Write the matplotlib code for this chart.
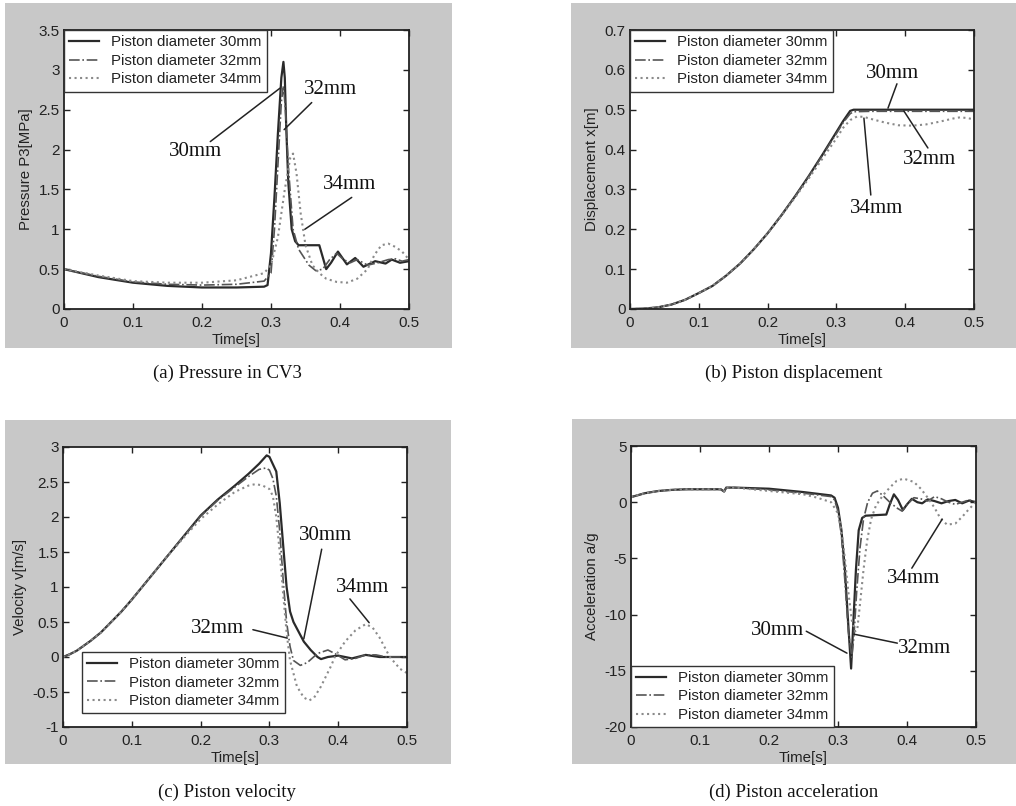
import numpy as np
import matplotlib.pyplot as plt
from matplotlib.patches import Rectangle
from matplotlib.ticker import FormatStrFormatter

# ---- (a) pressure in CV3 ----
tp_30 = [0, 0.05, 0.1, 0.15, 0.2, 0.25, 0.29, 0.295, 0.3, 0.305, 0.31, 0.315, 0.318, 0.32, 0.322, 0.325,
         0.33, 0.335, 0.34, 0.37, 0.375, 0.38, 0.387, 0.397, 0.41, 0.422, 0.434, 0.451, 0.466, 0.475, 0.487, 0.5]
p_30 = [0.5, 0.4, 0.33, 0.29, 0.27, 0.27, 0.28, 0.3, 0.7, 1.4, 2.2, 2.9, 3.1, 2.9, 2.3, 1.6,
        1.0, 0.85, 0.8, 0.8, 0.65, 0.5, 0.58, 0.72, 0.56, 0.64, 0.53, 0.6, 0.57, 0.62, 0.58, 0.6]
tp_32 = [0, 0.05, 0.1, 0.15, 0.2, 0.25, 0.29, 0.3, 0.305, 0.31, 0.315, 0.318, 0.321, 0.325, 0.332, 0.34,
         0.355, 0.365, 0.375, 0.385, 0.395, 0.405, 0.415, 0.425, 0.44, 0.455, 0.47, 0.48, 0.49, 0.5]
p_32 = [0.5, 0.41, 0.34, 0.31, 0.3, 0.31, 0.35, 0.45, 1.0, 1.8, 2.6, 2.8, 2.5, 1.8, 1.0, 0.75,
        0.55, 0.48, 0.5, 0.62, 0.7, 0.62, 0.58, 0.62, 0.55, 0.58, 0.62, 0.63, 0.6, 0.62]
tp_34 = [0, 0.05, 0.1, 0.15, 0.2, 0.25, 0.29, 0.3, 0.31, 0.32, 0.328, 0.332, 0.337, 0.343, 0.35, 0.36,
         0.37, 0.38, 0.395, 0.41, 0.425, 0.44, 0.45, 0.46, 0.47, 0.48, 0.49, 0.5]
p_34 = [0.5, 0.42, 0.35, 0.33, 0.33, 0.36, 0.45, 0.55, 0.9, 1.5, 1.9, 1.95, 1.7, 1.2, 0.8, 0.55,
        0.45, 0.38, 0.34, 0.33, 0.38, 0.5, 0.68, 0.8, 0.82, 0.78, 0.72, 0.62]

# ---- (b) piston displacement ----
tx_30 = [0, 0.02, 0.04, 0.06, 0.08, 0.1, 0.12, 0.14, 0.16, 0.18, 0.2, 0.22, 0.24, 0.26, 0.28, 0.3,
         0.31, 0.32, 0.325, 0.35, 0.4, 0.45, 0.5]
x_30 = [0, 0.001, 0.004, 0.011, 0.023, 0.04, 0.058, 0.084, 0.114, 0.15, 0.19, 0.235, 0.283, 0.334, 0.388, 0.444,
        0.472, 0.497, 0.5, 0.5, 0.5, 0.5, 0.5]
tx_32 = [0, 0.02, 0.04, 0.06, 0.08, 0.1, 0.12, 0.14, 0.16, 0.18, 0.2, 0.22, 0.24, 0.26, 0.28, 0.3,
         0.31, 0.32, 0.325, 0.35, 0.4, 0.45, 0.5]
x_32 = [0, 0.001, 0.004, 0.011, 0.023, 0.04, 0.058, 0.084, 0.114, 0.15, 0.19, 0.235, 0.283, 0.333, 0.386, 0.44,
        0.468, 0.49, 0.495, 0.496, 0.496, 0.496, 0.496]
tx_34 = [0, 0.02, 0.04, 0.06, 0.08, 0.1, 0.12, 0.14, 0.16, 0.18, 0.2, 0.22, 0.24, 0.26, 0.28, 0.3,
         0.31, 0.32, 0.33, 0.34, 0.35, 0.37, 0.39, 0.41, 0.43, 0.45, 0.47, 0.48, 0.49, 0.5]
x_34 = [0, 0.001, 0.004, 0.011, 0.023, 0.04, 0.058, 0.084, 0.114, 0.15, 0.19, 0.234, 0.28, 0.328, 0.378, 0.428,
        0.455, 0.474, 0.483, 0.482, 0.477, 0.468, 0.461, 0.46, 0.463, 0.47, 0.478, 0.481, 0.479, 0.476]

# ---- (c) piston velocity ----
tv_30 = [0, 0.01, 0.02, 0.03, 0.04, 0.055, 0.07, 0.085, 0.1, 0.125, 0.15, 0.175, 0.2, 0.225, 0.25, 0.27,
         0.285, 0.296, 0.3, 0.31, 0.315, 0.32, 0.325, 0.33, 0.335, 0.35, 0.36, 0.37, 0.375, 0.385, 0.4,
         0.42, 0.44, 0.46, 0.5]
v_30 = [0, 0.04, 0.09, 0.16, 0.23, 0.35, 0.5, 0.65, 0.82, 1.12, 1.42, 1.72, 2.02, 2.25, 2.45, 2.62,
        2.76, 2.88, 2.86, 2.65, 2.2, 1.6, 1.0, 0.65, 0.5, 0.22, 0.1, 0.0, -0.03, 0.0, 0.02,
        -0.02, 0.03, 0.0, 0.0]
tv_32 = [0, 0.01, 0.02, 0.03, 0.04, 0.055, 0.07, 0.085, 0.1, 0.125, 0.15, 0.175, 0.2, 0.225, 0.25, 0.27,
         0.285, 0.295, 0.3, 0.305, 0.31, 0.315, 0.32, 0.325, 0.33, 0.335, 0.345, 0.355, 0.37, 0.385, 0.395,
         0.41, 0.425, 0.44, 0.455, 0.47, 0.5]
v_32 = [0, 0.04, 0.09, 0.16, 0.23, 0.35, 0.5, 0.65, 0.82, 1.12, 1.42, 1.72, 2.01, 2.24, 2.43, 2.58,
        2.68, 2.7, 2.67, 2.55, 2.3, 1.8, 1.1, 0.5, 0.15, -0.05, -0.12, -0.08, 0.05, 0.1, 0.05,
        -0.04, -0.02, 0.03, 0.03, 0.0, 0.0]
tv_34 = [0, 0.01, 0.02, 0.03, 0.04, 0.055, 0.07, 0.085, 0.1, 0.125, 0.15, 0.175, 0.2, 0.225, 0.25, 0.27,
         0.28, 0.29, 0.3, 0.305, 0.31, 0.315, 0.32, 0.325, 0.33, 0.34, 0.35, 0.358, 0.365, 0.375, 0.39,
         0.395, 0.41, 0.425, 0.44, 0.45, 0.46, 0.475, 0.49, 0.5]
v_34 = [0, 0.04, 0.09, 0.16, 0.23, 0.35, 0.5, 0.65, 0.82, 1.12, 1.42, 1.7, 1.97, 2.18, 2.36, 2.45,
        2.47, 2.45, 2.4, 2.3, 2.0, 1.5, 0.9, 0.35, -0.05, -0.42, -0.58, -0.62, -0.58, -0.42, -0.12,
        0.0, 0.22, 0.38, 0.47, 0.42, 0.28, 0.0, -0.17, -0.23]

# ---- (d) piston acceleration ----
ta_30 = [0, 0.02, 0.04, 0.06, 0.08, 0.1, 0.13, 0.135, 0.138, 0.15, 0.175, 0.2, 0.225, 0.25, 0.27, 0.29,
         0.295, 0.3, 0.305, 0.31, 0.315, 0.319, 0.322, 0.326, 0.33, 0.335, 0.34, 0.37, 0.375, 0.381, 0.387,
         0.394, 0.4, 0.407, 0.415, 0.422, 0.43, 0.44, 0.45, 0.46, 0.47, 0.48, 0.49, 0.5]
a_30 = [0.45, 0.8, 1.0, 1.1, 1.15, 1.15, 1.15, 0.95, 1.3, 1.3, 1.25, 1.2, 1.05, 0.9, 0.75, 0.6,
        0.4, -0.5, -2.5, -6.0, -11.0, -14.8, -11.0, -6.0, -2.5, -1.4, -1.2, -1.1, -0.2, 0.7, 0.2,
        -0.7, -0.2, 0.3, 0.0, -0.1, 0.25, 0.1, -0.1, 0.1, 0.2, -0.1, 0.15, 0.0]
ta_32 = [0, 0.02, 0.04, 0.06, 0.08, 0.1, 0.13, 0.135, 0.138, 0.15, 0.175, 0.2, 0.225, 0.25, 0.27, 0.29,
         0.295, 0.3, 0.305, 0.31, 0.315, 0.32, 0.323, 0.327, 0.332, 0.337, 0.343, 0.35, 0.357, 0.365, 0.375,
         0.385, 0.393, 0.4, 0.41, 0.42, 0.43, 0.44, 0.45, 0.46, 0.47, 0.48, 0.49, 0.5]
a_32 = [0.45, 0.8, 1.0, 1.1, 1.15, 1.15, 1.15, 0.95, 1.3, 1.3, 1.2, 1.1, 0.95, 0.8, 0.65, 0.5,
        0.2, -0.8, -3.0, -7.0, -11.5, -13.8, -12.0, -8.0, -4.0, -1.5, 0.0, 0.8, 1.0, 0.6, 0.0,
        -0.5, -0.8, -0.2, 0.4, 0.3, 0.1, 0.5, 0.3, 0.0, -0.2, 0.0, 0.2, 0.0]
ta_34 = [0, 0.02, 0.04, 0.06, 0.08, 0.1, 0.13, 0.135, 0.138, 0.15, 0.175, 0.2, 0.225, 0.25, 0.27, 0.29,
         0.3, 0.305, 0.31, 0.315, 0.32, 0.325, 0.328, 0.332, 0.337, 0.342, 0.348, 0.355, 0.365, 0.375, 0.385,
         0.395, 0.41, 0.42, 0.43, 0.44, 0.448, 0.458, 0.47, 0.48, 0.49, 0.5]
a_34 = [0.45, 0.8, 1.0, 1.1, 1.15, 1.15, 1.15, 0.95, 1.3, 1.3, 1.15, 1.0, 0.85, 0.7, 0.4, 0.0,
        -1.0, -2.5, -5.0, -8.0, -10.5, -11.5, -11.3, -9.0, -6.0, -3.5, -1.5, -0.3, 0.6, 1.3, 1.9,
        2.1, 1.8, 1.2, 0.4, -0.5, -1.4, -2.0, -1.9, -1.3, -0.6, 0.0]

labels = ['Piston diameter 30mm', 'Piston diameter 32mm', 'Piston diameter 34mm']

W, H = 1016, 806
fig = plt.figure(figsize=(W / 100, H / 100), dpi=100)
fig.patch.set_facecolor('white')

sans = ['Liberation Sans', 'DejaVu Sans']
serif = ['Liberation Serif', 'DejaVu Serif']
txt_col = '#222222'


def px_axes(l, r, t, b):
    return [l / W, 1 - b / H, (r - l) / W, (b - t) / H]


def gray_box(l, r, t, b):
    fig.patches.append(Rectangle((l / W, 1 - b / H), (r - l) / W, (b - t) / H,
                                 transform=fig.transFigure, facecolor='#c8c8c8',
                                 edgecolor='none', zorder=-10))


def setup(ax, ylim, yticks, ylabel):
    ax.set_xlim(0, 0.5)
    ax.set_ylim(*ylim)
    ax.set_xticks(np.arange(0, 0.51, 0.1))
    ax.set_yticks(yticks)
    ax.xaxis.set_major_formatter(FormatStrFormatter('%g'))
    ax.yaxis.set_major_formatter(FormatStrFormatter('%g'))
    ax.tick_params(direction='in', top=True, right=True, length=4, width=1.0,
                   labelsize=11, colors='#222222')
    ax.tick_params(axis='x', pad=5)
    ax.tick_params(axis='y', pad=3)
    for lab in ax.get_xticklabels() + ax.get_yticklabels():
        lab.set_family(sans)
    for s in ax.spines.values():
        s.set_linewidth(1.3)
        s.set_color('#222222')
    ax.set_xlabel('Time[s]', family=sans, fontsize=10.8, color=txt_col, labelpad=2)
    ax.set_ylabel(ylabel, family=sans, fontsize=10.8, color=txt_col, labelpad=4)


def draw(ax, t30, y30, t32, y32, t34, y34):
    l1, = ax.plot(t30, y30, '-', color='#2a2a2a', lw=1.6)
    l2, = ax.plot(t32, y32, '-.', color='#555555', lw=1.2)
    l3, = ax.plot(t34, y34, ':', color='#8a8a8a', lw=1.5)
    return [l1, l2, l3]


def note(ax, text, txy, start, tip):
    ax.annotate('', xy=tip, xytext=start,
                arrowprops=dict(arrowstyle='-', color='#222222', lw=1.1, shrinkA=0, shrinkB=0))
    ax.text(txy[0], txy[1], text, family=serif, fontsize=15, ha='center', va='center', color='#111111')


def legend(ax, lines, **kw):
    leg = ax.legend(lines, labels, prop={'family': sans, 'size': 10.8}, fancybox=False,
                    edgecolor='#333333', framealpha=1, borderaxespad=0, handlelength=2.0,
                    handletextpad=0.8, labelspacing=0.3, borderpad=0.35, **kw)
    leg.get_frame().set_linewidth(1.0)
    for t in leg.get_texts():
        t.set_color(txt_col)


# gray backgrounds
gray_box(5, 452, 3, 348)
gray_box(571, 1016, 3, 348)
gray_box(5, 451, 420, 764)
gray_box(572, 1016, 419, 764)

# (a)
ax = fig.add_axes(px_axes(64, 409, 30, 309))
lines = draw(ax, tp_30, p_30, tp_32, p_32, tp_34, p_34)
setup(ax, (0, 3.5), np.arange(0, 3.51, 0.5), 'Pressure P3[MPa]')
legend(ax, lines, loc='upper left')
note(ax, '30mm', (0.190, 1.97), (0.212, 2.10), (0.313, 2.77))
note(ax, '32mm', (0.386, 2.75), (0.359, 2.59), (0.319, 2.25))
note(ax, '34mm', (0.414, 1.56), (0.417, 1.40), (0.349, 1.0))

# (b)
ax = fig.add_axes(px_axes(630, 974, 30, 309))
lines = draw(ax, tx_30, x_30, tx_32, x_32, tx_34, x_34)
setup(ax, (0, 0.7), np.arange(0, 0.71, 0.1), 'Displacement x[m]')
legend(ax, lines, loc='upper left')
note(ax, '30mm', (0.382, 0.592), (0.388, 0.565), (0.375, 0.504))
note(ax, '32mm', (0.436, 0.376), (0.433, 0.404), (0.398, 0.497))
note(ax, '34mm', (0.359, 0.251), (0.350, 0.286), (0.340, 0.479))

# (c)
ax = fig.add_axes(px_axes(63, 407, 447, 727))
lines = draw(ax, tv_30, v_30, tv_32, v_32, tv_34, v_34)
setup(ax, (-1, 3), np.arange(-1, 3.01, 0.5), 'Velocity v[m/s]')
legend(ax, lines, loc='upper left', bbox_to_anchor=(0.055, 0.268))
note(ax, '30mm', (0.381, 1.73), (0.376, 1.54), (0.350, 0.26))
note(ax, '34mm', (0.436, 0.99), (0.417, 0.83), (0.445, 0.49))
note(ax, '32mm', (0.224, 0.41), (0.276, 0.39), (0.326, 0.27))

# (d)
ax = fig.add_axes(px_axes(631, 976, 446, 727))
lines = draw(ax, ta_30, a_30, ta_32, a_32, ta_34, a_34)
setup(ax, (-20, 5), np.arange(-20, 5.1, 5), 'Acceleration a/g')
legend(ax, lines, loc='lower left')
note(ax, '34mm', (0.409, -6.76), (0.407, -5.87), (0.451, -1.51))
note(ax, '30mm', (0.212, -11.39), (0.254, -11.48), (0.313, -13.43))
note(ax, '32mm', (0.426, -12.99), (0.386, -12.54), (0.323, -11.74))

# captions
for cx, cy, cap in [(227, 373, '(a) Pressure in CV3'), (794, 373, '(b) Piston displacement'),
                    (227, 792, '(c) Piston velocity'), (794, 792, '(d) Piston acceleration')]:
    fig.text(cx / W, 1 - cy / H, cap, family=serif, fontsize=13.5, ha='center', va='center', color='#111111')

fig.savefig('out.png', dpi=100)
